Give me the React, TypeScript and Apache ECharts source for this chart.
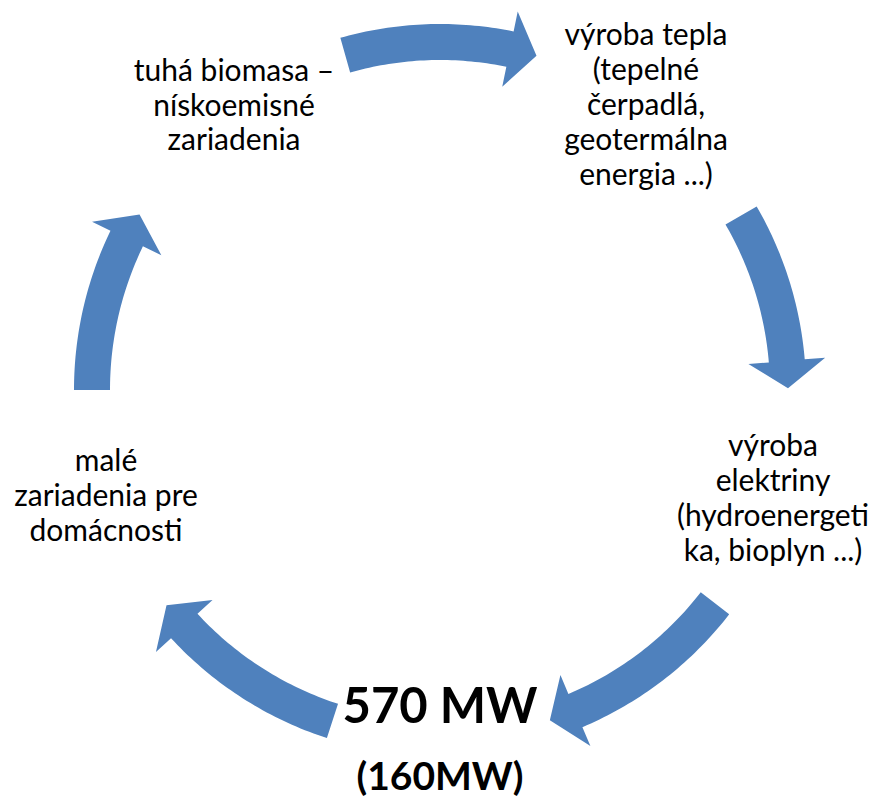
import React, { useEffect, useRef } from "react";
import * as echarts from "echarts";

// ---- data ----
const nodeLabels: string[][] = [
  ["tuhá biomasa –", "nískoemisné", "zariadenia"],
  ["výroba tepla", "(tepelné", "čerpadlá,", "geotermálna", "energia ...)"],
  ["výroba", "elektriny", "(hydroenergeti", "ka, bioplyn ...)"],
  ["570 MW", "(160MW)"],
  ["malé", "zariadenia pre", "domácnosti"],
];
// arrow start / end angles (degrees, clockwise from 3 o'clock)
const arrowTailAngles = [180, 254.2, 329.9, 37.8, 108];
const arrowTipAngles = [210.3, 286.1, 359.7, 71.6, 141.8];

// ---- layout ----
const CX = 440;
const CY = 390;
const R = 348;
const BAND = 36;
const HEAD_W = 77;
const HEAD_ANG = 4.5;
const ARROW_COLOR = "#4F81BD";
const FONT = "Lato, 'Open Sans', sans-serif";

const nodeLayout = [
  { x: 234, base: 80, gap: 34.5 },
  { x: 646, base: 44, gap: 35 },
  { x: 773, base: 455, gap: 35 },
  { x: 440, base: 722, gap: 67 },
  { x: 106, base: 470, gap: 35 },
];

function pt(r: number, deg: number): number[] {
  const a = (deg * Math.PI) / 180;
  return [CX + r * Math.cos(a), CY + r * Math.sin(a)];
}

function arrowPolygon(tail: number, tip: number): number[][] {
  const base = tip - HEAD_ANG;
  const rIn = R - BAND / 2;
  const rOut = R + BAND / 2;
  const steps = 40;
  const pts: number[][] = [];
  for (let i = 0; i <= steps; i++) {
    pts.push(pt(rOut, tail + ((base - tail) * i) / steps));
  }
  pts.push(pt(R + HEAD_W / 2, base));
  pts.push(pt(R, tip));
  pts.push(pt(R - HEAD_W / 2, base));
  for (let i = steps; i >= 0; i--) {
    pts.push(pt(rIn, tail + ((base - tail) * i) / steps));
  }
  return pts;
}

export default function App() {
  const ref = useRef<HTMLDivElement>(null);
  useEffect(() => {
    if (!ref.current) return;
    const chart = echarts.init(ref.current, undefined, { renderer: "svg" });
    const elements: any[] = [];
    arrowTailAngles.forEach((t, i) => {
      elements.push({
        type: "polygon",
        shape: { points: arrowPolygon(t, arrowTipAngles[i]) },
        style: { fill: ARROW_COLOR, stroke: "none" },
      });
    });
    nodeLabels.forEach((lines, ni) => {
      const lay = nodeLayout[ni];
      const bold = ni === 3;
      lines.forEach((line, li) => {
        const size = bold ? (li === 0 ? 49 : 39) : 30;
        elements.push({
          type: "text",
          x: lay.x,
          y: lay.base + li * lay.gap - size * 0.36,
          style: {
            text: line,
            fill: "#000",
            fontSize: size,
            fontFamily: FONT,
            fontWeight: bold ? "bold" : "normal",
            align: "center",
            verticalAlign: "middle",
          },
        });
      });
    });
    chart.setOption({
      animation: false,
      backgroundColor: "#ffffff",
      graphic: { elements },
    });
    return () => chart.dispose();
  }, []);
  return (
    <div
      ref={ref}
      style={{ position: "fixed", left: 0, top: 0, width: 877, height: 800 }}
    />
  );
}
